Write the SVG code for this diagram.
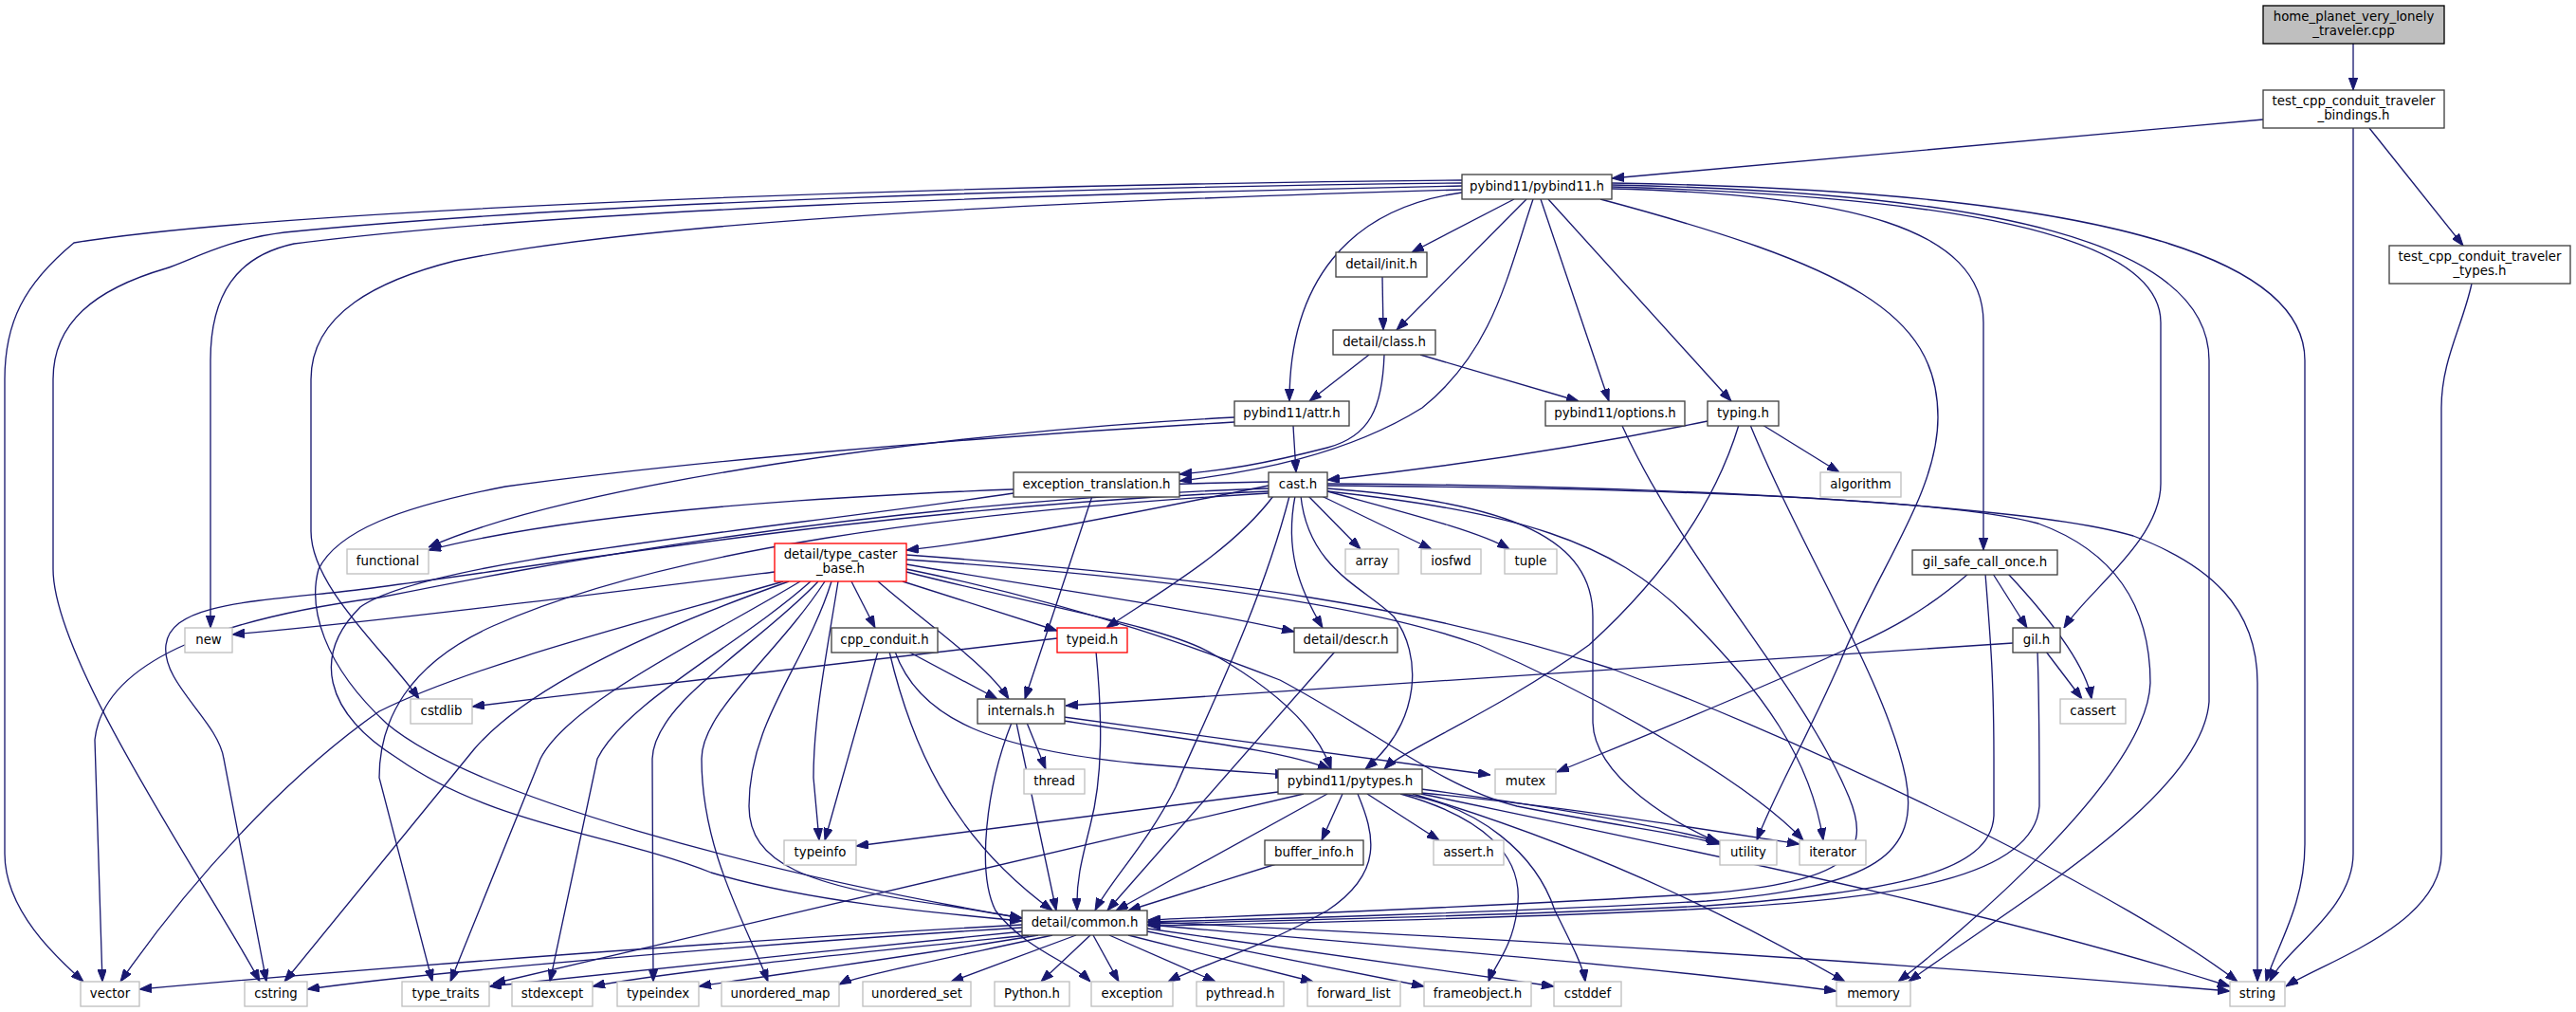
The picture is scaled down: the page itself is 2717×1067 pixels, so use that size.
<svg xmlns="http://www.w3.org/2000/svg" width="2717" height="1067" viewBox="0 0 2717 1067">
<defs>
<marker id="ah" viewBox="0 0 13 9.4" refX="13" refY="4.7" markerWidth="13" markerHeight="9.4" markerUnits="userSpaceOnUse" orient="auto">
<path d="M0,0 L13,4.7 L0,9.4 z" fill="#191970" stroke="#191970" stroke-width="1"/>
</marker>
</defs>
<style>
rect{stroke-width:1.33}
.n{fill:#ffffff;stroke:#404040}
.g{fill:#ffffff;stroke:#bfbfbf}
.r{fill:#ffffff;stroke:#ff0000}
.c{fill:#bfbfbf;stroke:#000000}
text{font-family:"DejaVu Sans","Liberation Sans",sans-serif;font-size:13.33px;fill:#000000;text-anchor:middle}
#edges path{fill:none;stroke:#191970;stroke-width:1.33;marker-end:url(#ah)}
</style>
<rect x="0" y="0" width="2717" height="1067" fill="#ffffff"/>
<g id="edges">
<path d="M2482,46 L2482,95"/>
<path d="M2387,126 L1700,188"/>
<path d="M2499,135 L2598,259"/>
<path d="M2482,135 L2482,900 C2482,960 2410,1000 2394,1035"/>
<path d="M2607,299 C2597,345 2575,380 2575,430 L2575,900 C2575,975 2450,1015 2411,1040"/>
<path d="M1542,190 C1000,195 300,220 78,256 C25,300 5,340 5,400 L5,900 C5,960 60,1010 88,1035"/>
<path d="M1542,193 C1100,198 600,215 300,245 C240,252 200,275 175,283 C100,305 56,340 56,400 L56,600 C56,700 230,950 274,1035"/>
<path d="M1542,196 C1100,205 600,220 310,257 C250,270 222,310 222,380 L222,662"/>
<path d="M1542,200 C1000,215 650,240 480,275 C400,295 328,330 328,400 L328,560 C328,620 410,690 442,737"/>
<path d="M1542,203 C1420,220 1360,300 1360,423"/>
<path d="M1617,210 C1590,290 1575,370 1500,430 C1420,480 1320,498 1244,507"/>
<path d="M1597,210 L1489,266"/>
<path d="M1610,210 L1473,348"/>
<path d="M1625,210 L1697,423"/>
<path d="M1633,210 L1826,423"/>
<path d="M1688,210 C1950,280 2044,330 2044,440 C2044,520 1980,600 1940,700 C1900,790 1870,840 1853,886"/>
<path d="M1700,199 C1950,205 2092,240 2092,340 L2092,580"/>
<path d="M1700,197 C2050,207 2279,245 2279,340 L2279,510 C2279,570 2200,625 2177,662"/>
<path d="M1700,195 C2100,203 2330,255 2330,380 L2330,740 C2322,840 2130,950 2013,1035"/>
<path d="M1700,193 C2150,200 2431,255 2431,380 L2431,890 C2431,955 2400,1000 2390,1035"/>
<path d="M1458,292 L1459,348"/>
<path d="M1444,374 L1381,423"/>
<path d="M1498,374 L1665,423"/>
<path d="M1460,374 C1458,430 1445,460 1400,472 C1330,490 1290,496 1244,500"/>
<path d="M1364,449 L1367,498"/>
<path d="M1302,440 C1000,455 600,510 452,577"/>
<path d="M1302,445 C1000,462 700,490 533,513 C420,535 356,560 336,600 C325,640 340,700 408,763 C500,840 800,920 1078,968"/>
<path d="M1069,520 C800,560 450,590 380,640 C330,690 340,750 420,800 C520,870 650,880 750,920 C850,950 980,962 1078,971"/>
<path d="M1152,523 L1081,737"/>
<path d="M1338,512 C1200,540 1050,570 956,580"/>
<path d="M1338,508 C1000,515 650,530 452,580"/>
<path d="M1338,515 C900,530 550,600 400,630 C250,650 110,690 100,780 L108,1035"/>
<path d="M1338,518 C900,535 500,610 350,625 C250,635 180,640 175,680 C170,720 230,760 236,800 L281,1035"/>
<path d="M1338,520 C1000,540 700,580 520,660 C430,700 400,760 400,820 L456,1035"/>
<path d="M1380,523 L1435,579"/>
<path d="M1394,523 L1510,579"/>
<path d="M1400,518 C1480,540 1560,560 1592,579"/>
<path d="M1343,523 C1300,580 1230,620 1167,662"/>
<path d="M1366,523 C1355,580 1370,620 1395,662"/>
<path d="M1372,523 C1380,600 1440,620 1470,650 C1500,690 1500,760 1440,811"/>
<path d="M1360,523 C1330,640 1270,760 1240,830 C1210,890 1170,930 1155,960"/>
<path d="M1400,515 C1600,530 1680,570 1680,650 L1680,760 C1680,820 1770,870 1812,888"/>
<path d="M1400,518 C1600,540 1700,570 1780,650 C1860,730 1910,800 1923,886"/>
<path d="M1400,512 C1750,515 2050,525 2150,552 C2240,585 2268,650 2268,720 C2265,820 2060,990 2002,1035"/>
<path d="M1400,510 C1800,512 2150,535 2250,565 C2330,595 2381,640 2381,720 L2381,1035"/>
<path d="M1801,444 C1650,475 1500,495 1400,506"/>
<path d="M1859,448 L1940,498"/>
<path d="M1834,448 C1800,560 1720,640 1676,680 C1580,750 1480,790 1460,811"/>
<path d="M1846,448 C1900,580 1990,720 2010,820 C2025,900 1980,935 1800,950 C1600,962 1300,970 1211,972"/>
<path d="M1711,449 C1780,600 1900,720 1950,840 C1975,900 1950,930 1800,942 C1600,955 1300,966 1211,970"/>
<path d="M2102,605 L2138,662"/>
<path d="M2118,605 C2160,650 2200,700 2206,737"/>
<path d="M2076,605 C2030,645 1990,665 1957,680 C1850,730 1700,790 1642,814"/>
<path d="M2094,605 C2100,680 2103,720 2103,800 L2103,860 C2100,920 2000,940 1800,955 C1600,965 1300,972 1211,974"/>
<path d="M2158,687 L2196,737"/>
<path d="M2123,678 L1124,744"/>
<path d="M2149,687 C2151,740 2151,780 2151,850 C2145,925 2000,948 1800,958 C1600,968 1300,975 1211,976"/>
<path d="M817,603 C600,630 400,655 245,669"/>
<path d="M826,613 C700,650 500,700 400,750 C300,820 200,930 127,1035"/>
<path d="M832,613 C700,660 560,720 500,790 L300,1035"/>
<path d="M844,613 C750,670 600,740 570,800 L475,1035"/>
<path d="M855,613 C780,680 660,740 630,800 L580,1035"/>
<path d="M863,613 C800,680 690,740 688,800 L689,1035"/>
<path d="M870,613 C820,690 740,750 740,800 C740,900 790,980 810,1035"/>
<path d="M877,613 C850,700 790,760 790,850 C790,910 850,935 1000,955 L1078,968"/>
<path d="M884,613 C870,700 858,760 858,820 L864,886"/>
<path d="M898,613 L923,662"/>
<path d="M926,613 C980,660 1040,700 1064,737"/>
<path d="M952,613 L1115,665"/>
<path d="M956,595 C1100,620 1250,640 1365,666"/>
<path d="M956,603 C1100,640 1230,660 1280,690 C1350,730 1390,770 1404,811"/>
<path d="M956,585 C1300,610 1500,640 1700,705 C1950,800 2250,950 2360,1035"/>
<path d="M956,590 C1250,610 1450,640 1560,680 C1700,740 1850,830 1902,886"/>
<path d="M956,600 C1150,640 1280,690 1350,717 C1450,770 1520,830 1600,850 C1700,870 1780,880 1814,890"/>
<path d="M926,687 L870,886"/>
<path d="M958,687 L1052,737"/>
<path d="M944,687 C970,760 1050,790 1200,805 C1280,812 1330,815 1358,817"/>
<path d="M938,687 C960,780 1000,880 1110,960"/>
<path d="M1156,687 C1163,760 1163,820 1150,870 C1140,910 1135,930 1136,960"/>
<path d="M1115,673 C900,700 700,720 498,745"/>
<path d="M1408,687 L1168,960"/>
<path d="M1072,762 L1114,960"/>
<path d="M1067,762 C1040,830 1030,920 1050,960 C1080,1000 1130,1015 1150,1035"/>
<path d="M1083,762 L1103,811"/>
<path d="M1122,760 C1250,780 1350,790 1403,811"/>
<path d="M1122,756 C1300,780 1450,800 1572,817"/>
<path d="M1348,835 L903,892"/>
<path d="M1375,837 L520,1037"/>
<path d="M1400,837 L1177,960"/>
<path d="M1416,837 L1394,886"/>
<path d="M1432,837 C1450,880 1460,920 1400,960 C1330,1000 1260,1020 1232,1035"/>
<path d="M1442,837 L1518,886"/>
<path d="M1477,837 C1560,860 1610,900 1600,960 C1595,1000 1575,1020 1570,1035"/>
<path d="M1480,837 C1560,850 1620,900 1640,960 C1660,1000 1670,1020 1672,1035"/>
<path d="M1499,832 C1600,845 1750,870 1814,888"/>
<path d="M1499,836 C1650,850 1800,875 1898,890"/>
<path d="M1490,837 C1700,900 1850,980 1946,1035"/>
<path d="M1499,837 C1800,900 2100,960 2352,1040"/>
<path d="M1346,911 L1190,960"/>
<path d="M1078,975 C800,990 400,1020 147,1043"/>
<path d="M1078,978 C800,995 450,1025 324,1043"/>
<path d="M1080,982 C900,1000 650,1025 516,1040"/>
<path d="M1085,986 C900,1005 700,1025 625,1040"/>
<path d="M1095,986 C950,1010 800,1030 737,1040"/>
<path d="M1110,986 C1000,1010 900,1030 885,1038"/>
<path d="M1135,986 L1003,1035"/>
<path d="M1150,986 L1098,1035"/>
<path d="M1153,986 L1180,1035"/>
<path d="M1170,986 L1282,1035"/>
<path d="M1190,986 L1385,1035"/>
<path d="M1210,982 L1502,1040"/>
<path d="M1210,979 L1639,1040"/>
<path d="M1210,975 C1500,1000 1750,1020 1937,1045"/>
<path d="M1210,972 C1600,990 2000,1015 2352,1045"/>
</g>
<g id="node-home"><rect class="c" x="2387" y="6" width="191" height="40"/><text x="2482.5" y="22">home_planet_very_lonely</text><text x="2482.5" y="37">_traveler.cpp</text></g>
<g id="node-bindings"><rect class="n" x="2387" y="95" width="191" height="40"/><text x="2482.5" y="111">test_cpp_conduit_traveler</text><text x="2482.5" y="126">_bindings.h</text></g>
<g id="node-types"><rect class="n" x="2520" y="259" width="191" height="40"/><text x="2615.5" y="275">test_cpp_conduit_traveler</text><text x="2615.5" y="290">_types.h</text></g>
<g id="node-pybind11"><rect class="n" x="1542" y="184" width="158" height="26"/><text x="1621" y="201">pybind11/pybind11.h</text></g>
<g id="node-init"><rect class="n" x="1409" y="266" width="96" height="26"/><text x="1457" y="283">detail/init.h</text></g>
<g id="node-class"><rect class="n" x="1406" y="348" width="108" height="26"/><text x="1460" y="365">detail/class.h</text></g>
<g id="node-attr"><rect class="n" x="1302" y="423" width="121" height="26"/><text x="1362.5" y="440">pybind11/attr.h</text></g>
<g id="node-options"><rect class="n" x="1630" y="423" width="147" height="26"/><text x="1703.5" y="440">pybind11/options.h</text></g>
<g id="node-typing"><rect class="n" x="1801" y="423" width="75" height="26"/><text x="1838.5" y="440">typing.h</text></g>
<g id="node-algorithm"><rect class="g" x="1920" y="498" width="85" height="26"/><text x="1962.5" y="515">algorithm</text></g>
<g id="node-exc"><rect class="n" x="1069" y="498" width="175" height="26"/><text x="1156.5" y="515">exception_translation.h</text></g>
<g id="node-cast"><rect class="n" x="1338" y="498" width="62" height="26"/><text x="1369" y="515">cast.h</text></g>
<g id="node-gilsafe"><rect class="n" x="2017" y="580" width="153" height="26"/><text x="2093.5" y="597">gil_safe_call_once.h</text></g>
<g id="node-functional"><rect class="g" x="366" y="579" width="86" height="26"/><text x="409" y="596">functional</text></g>
<g id="node-tcb"><rect class="r" x="817" y="573" width="139" height="40"/><text x="886.5" y="589">detail/type_caster</text><text x="886.5" y="604">_base.h</text></g>
<g id="node-array"><rect class="g" x="1419" y="579" width="56" height="26"/><text x="1447" y="596">array</text></g>
<g id="node-iosfwd"><rect class="g" x="1499" y="579" width="63" height="26"/><text x="1530.5" y="596">iosfwd</text></g>
<g id="node-tuple"><rect class="g" x="1587" y="579" width="55" height="26"/><text x="1614.5" y="596">tuple</text></g>
<g id="node-new"><rect class="g" x="195" y="662" width="50" height="26"/><text x="220" y="679">new</text></g>
<g id="node-cpp"><rect class="n" x="877" y="662" width="112" height="26"/><text x="933" y="679">cpp_conduit.h</text></g>
<g id="node-typeid"><rect class="r" x="1115" y="662" width="74" height="26"/><text x="1152" y="679">typeid.h</text></g>
<g id="node-descr"><rect class="n" x="1365" y="662" width="109" height="26"/><text x="1419.5" y="679">detail/descr.h</text></g>
<g id="node-gil"><rect class="n" x="2123" y="662" width="50" height="26"/><text x="2148" y="679">gil.h</text></g>
<g id="node-cstdlib"><rect class="g" x="433" y="737" width="65" height="26"/><text x="465.5" y="754">cstdlib</text></g>
<g id="node-internals"><rect class="n" x="1031" y="737" width="92" height="26"/><text x="1077" y="754">internals.h</text></g>
<g id="node-cassert"><rect class="g" x="2173" y="737" width="69" height="26"/><text x="2207.5" y="754">cassert</text></g>
<g id="node-thread"><rect class="g" x="1080" y="811" width="64" height="26"/><text x="1112" y="828">thread</text></g>
<g id="node-pytypes"><rect class="n" x="1348" y="811" width="152" height="26"/><text x="1424" y="828">pybind11/pytypes.h</text></g>
<g id="node-mutex"><rect class="g" x="1577" y="811" width="64" height="26"/><text x="1609" y="828">mutex</text></g>
<g id="node-typeinfo"><rect class="g" x="827" y="886" width="76" height="26"/><text x="865" y="903">typeinfo</text></g>
<g id="node-buffer"><rect class="n" x="1334" y="886" width="104" height="26"/><text x="1386" y="903">buffer_info.h</text></g>
<g id="node-assert"><rect class="g" x="1512" y="886" width="74" height="26"/><text x="1549" y="903">assert.h</text></g>
<g id="node-utility"><rect class="g" x="1814" y="886" width="60" height="26"/><text x="1844" y="903">utility</text></g>
<g id="node-iterator"><rect class="g" x="1898" y="886" width="70" height="26"/><text x="1933" y="903">iterator</text></g>
<g id="node-common"><rect class="n" x="1078" y="960" width="132" height="26"/><text x="1144" y="977">detail/common.h</text></g>
<g id="node-vector"><rect class="g" x="85" y="1035" width="62" height="26"/><text x="116" y="1052">vector</text></g>
<g id="node-cstring"><rect class="g" x="258" y="1035" width="66" height="26"/><text x="291" y="1052">cstring</text></g>
<g id="node-type_traits"><rect class="g" x="424" y="1035" width="92" height="26"/><text x="470" y="1052">type_traits</text></g>
<g id="node-stdexcept"><rect class="g" x="540" y="1035" width="85" height="26"/><text x="582.5" y="1052">stdexcept</text></g>
<g id="node-typeindex"><rect class="g" x="651" y="1035" width="86" height="26"/><text x="694" y="1052">typeindex</text></g>
<g id="node-unordered_map"><rect class="g" x="761" y="1035" width="124" height="26"/><text x="823" y="1052">unordered_map</text></g>
<g id="node-unordered_set"><rect class="g" x="910" y="1035" width="114" height="26"/><text x="967" y="1052">unordered_set</text></g>
<g id="node-python"><rect class="g" x="1049" y="1035" width="79" height="26"/><text x="1088.5" y="1052">Python.h</text></g>
<g id="node-exception"><rect class="g" x="1151" y="1035" width="86" height="26"/><text x="1194" y="1052">exception</text></g>
<g id="node-pythread"><rect class="g" x="1262" y="1035" width="92" height="26"/><text x="1308" y="1052">pythread.h</text></g>
<g id="node-forward_list"><rect class="g" x="1379" y="1035" width="98" height="26"/><text x="1428" y="1052">forward_list</text></g>
<g id="node-frameobject"><rect class="g" x="1502" y="1035" width="113" height="26"/><text x="1558.5" y="1052">frameobject.h</text></g>
<g id="node-cstddef"><rect class="g" x="1639" y="1035" width="71" height="26"/><text x="1674.5" y="1052">cstddef</text></g>
<g id="node-memory"><rect class="g" x="1937" y="1035" width="78" height="26"/><text x="1976" y="1052">memory</text></g>
<g id="node-string"><rect class="g" x="2352" y="1035" width="58" height="26"/><text x="2381" y="1052">string</text></g>
</svg>
